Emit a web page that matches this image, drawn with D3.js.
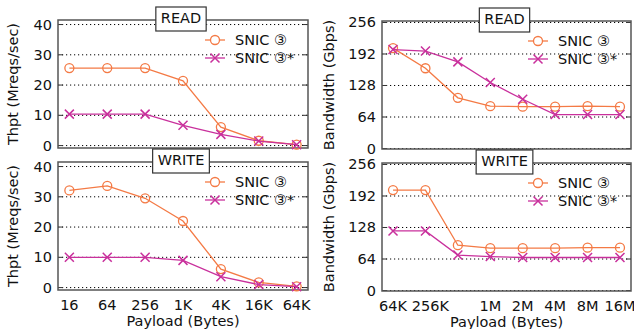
<!DOCTYPE html>
<html>
<head>
<meta charset="utf-8">
<script src="https://d3js.org/d3.v7.min.js"></script>
<style>
body { margin: 0; background: #fff; }
svg { display: block; font-family: 'DejaVu Sans', sans-serif; }
</style>
</head>
<body>
<svg width="634" height="329"></svg>
<script>
// categories
var opsSizes = ["16", "64", "256", "1K", "4K", "16K", "64K"];
var bwSizes = ["64K", "256K", "512K", "1M", "2M", "4M", "8M", "16M"];
var bwTickLabels = ["64K", "256K", "", "1M", "2M", "4M", "8M", "16M"];
var opsTicks = [0, 10, 20, 30, 40];
var bwTicks = [0, 64, 128, 192, 256];

// throughput (Mreqs/sec)
var readOps = [25.6, 25.6, 25.6, 21.4, 6.1, 1.6, 0.3];
var readOpsStar = [10.4, 10.4, 10.4, 6.7, 3.7, 1.5, 0.3];
var writeOps = [32.1, 33.6, 29.5, 22.0, 6.1, 1.7, 0.4];
var writeOpsStar = [10.0, 10.0, 10.0, 9.0, 3.6, 1.0, 0.3];

// bandwidth (Gbps)
var readBw = [204, 163, 103, 86, 85, 85, 86, 85];
var readBwStar = [201, 198, 176, 134, 100, 69, 69, 69];
var writeBw = [204, 204, 92, 86, 86, 86, 87, 87];
var writeBwStar = [121, 121, 72, 69, 67, 67, 67, 67];

var names = ["SNIC \u2462", "SNIC \u2462*"];
var colors = ["#f47a45", "#c9309c"];

var svg = d3.select("svg");

function panel(opts) {
  var g = svg.append("g");
  var x = d3.scalePoint().domain(opts.cats).range([opts.x0, opts.x1]).padding(opts.pad);
  var y = d3.scaleLinear().domain(opts.ydom).range([opts.y1, opts.y0]);

  // dotted grid
  g.selectAll(".grid").data(opts.ticks).enter().append("line")
    .attr("x1", opts.x0).attr("x2", opts.x1)
    .attr("y1", function (d) { return y(d); }).attr("y2", function (d) { return y(d); })
    .attr("stroke", "#000").attr("stroke-width", 1).attr("stroke-dasharray", "1.2,2.8");

  // tick marks inside on both sides
  opts.ticks.forEach(function (t) {
    g.append("line").attr("x1", opts.x0).attr("x2", opts.x0 + 5).attr("y1", y(t)).attr("y2", y(t)).attr("stroke", "#333");
    g.append("line").attr("x1", opts.x1).attr("x2", opts.x1 - 5).attr("y1", y(t)).attr("y2", y(t)).attr("stroke", "#333");
    g.append("text").attr("x", opts.x0 - 6).attr("y", y(t) + 5)
      .attr("text-anchor", "end").attr("font-size", 14.5).attr("fill", "#111").text(t);
  });

  // frame
  g.append("rect").attr("x", opts.x0).attr("y", opts.y0)
    .attr("width", opts.x1 - opts.x0).attr("height", opts.y1 - opts.y0)
    .attr("fill", "none").attr("stroke", "#555").attr("stroke-width", 1.5);

  var line = d3.line().x(function (d, i) { return x(opts.cats[i]); }).y(function (d) { return y(d); });

  opts.series.forEach(function (s, k) {
    g.append("path").attr("d", line(s)).attr("fill", "none")
      .attr("stroke", colors[k]).attr("stroke-width", 1.3);
    s.forEach(function (v, i) {
      var cx = x(opts.cats[i]), cy = y(v);
      if (k === 0) {
        g.append("circle").attr("cx", cx).attr("cy", cy).attr("r", 4.5)
          .attr("fill", "none").attr("stroke", colors[k]).attr("stroke-width", 1.3);
      } else {
        g.append("path").attr("d", "M" + (cx - 4.5) + "," + (cy - 4.5) + "L" + (cx + 4.5) + "," + (cy + 4.5) +
          "M" + (cx - 4.5) + "," + (cy + 4.5) + "L" + (cx + 4.5) + "," + (cy - 4.5))
          .attr("stroke", colors[k]).attr("stroke-width", 1.5);
      }
    });
  });

  // legend
  var lx = opts.x1 - 103, ly = opts.y0 + 20;
  names.forEach(function (n, k) {
    var yy = ly + k * 18;
    g.append("line").attr("x1", lx).attr("x2", lx + 20).attr("y1", yy).attr("y2", yy)
      .attr("stroke", colors[k]).attr("stroke-width", 1.3);
    if (k === 0) {
      g.append("circle").attr("cx", lx + 10).attr("cy", yy).attr("r", 4.5)
        .attr("fill", "#fff").attr("stroke", colors[k]).attr("stroke-width", 1.3);
    } else {
      g.append("path").attr("d", "M" + (lx + 5.5) + "," + (yy - 4.5) + "L" + (lx + 14.5) + "," + (yy + 4.5) +
        "M" + (lx + 5.5) + "," + (yy + 4.5) + "L" + (lx + 14.5) + "," + (yy - 4.5))
        .attr("stroke", colors[k]).attr("stroke-width", 1.5);
    }
    g.append("text").attr("x", lx + 30).attr("y", yy + 5).attr("font-size", 14.5).attr("fill", "#111").text(n);
  });

  // title box
  var cx = (opts.x0 + opts.x1) / 2 - 2;
  var tt = g.append("text").attr("x", cx).attr("y", opts.y0 + 3).attr("text-anchor", "middle")
    .attr("font-size", 14.5).attr("fill", "#111").text(opts.title);
  var w = tt.node().getComputedTextLength() + 10;
  g.insert("rect", "text:last-child").attr("x", cx - w / 2).attr("y", opts.y0 - 13)
    .attr("width", w).attr("height", 24).attr("fill", "#fff").attr("stroke", "#333").attr("stroke-width", 1.2);

  // x tick labels
  if (opts.xlabels) {
    opts.cats.forEach(function (c, i) {
      var off = opts.xlabels[i] === "256K" ? 5 : 0; // gnuplot puts this one a bit right
      g.append("text").attr("x", x(c) + off).attr("y", opts.y1 + 20).attr("text-anchor", "middle")
        .attr("font-size", 14.5).attr("fill", "#111").text(opts.xlabels[i]);
    });
    g.append("text").attr("x", (opts.x0 + opts.x1) / 2).attr("y", opts.y1 + 36).attr("text-anchor", "middle")
      .attr("font-size", 14.5).attr("fill", "#111").text("Payload (Bytes)");
  }
}

var L = { x0: 58, x1: 308, pad: 0.3, cats: opsSizes, ydom: [-0.8, 41.5], ticks: opsTicks };
var R = { x0: 382, x1: 631, pad: 0.34, cats: bwSizes, ydom: [-1, 259], ticks: bwTicks };

panel(Object.assign({}, L, { y0: 20, y1: 148, title: "READ", series: [readOps, readOpsStar] }));
panel(Object.assign({}, L, { y0: 162, y1: 290, title: "WRITE", series: [writeOps, writeOpsStar], xlabels: opsSizes }));
panel(Object.assign({}, R, { y0: 21, y1: 149, title: "READ", series: [readBw, readBwStar] }));
panel(Object.assign({}, R, { y0: 163, y1: 291, title: "WRITE", series: [writeBw, writeBwStar], xlabels: bwTickLabels }));

// y axis titles
[[18, 84], [18, 226]].forEach(function (p) {
  svg.append("text").attr("transform", "translate(" + p[0] + "," + p[1] + ") rotate(-90)")
    .attr("text-anchor", "middle").attr("font-size", 14.5).attr("fill", "#111").text("Thpt (Mreqs/sec)");
});
[[334, 85], [334, 227]].forEach(function (p) {
  svg.append("text").attr("transform", "translate(" + p[0] + "," + p[1] + ") rotate(-90)")
    .attr("text-anchor", "middle").attr("font-size", 14.5).attr("fill", "#111").text("Bandwidth (Gbps)");
});
</script>
</body>
</html>
